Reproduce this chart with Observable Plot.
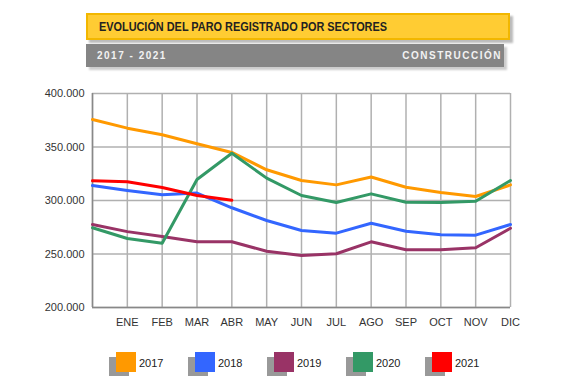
<!DOCTYPE html>
<html><head><meta charset="utf-8">
<script src="https://cdn.jsdelivr.net/npm/d3@7"></script>
<script src="https://cdn.jsdelivr.net/npm/@observablehq/plot@0.6"></script>
<style>
body{margin:0;background:#fff;font-family:"Liberation Sans",Arial,sans-serif;}
#wrap{position:relative;width:580px;height:383px;overflow:hidden;}
#chart{position:absolute;left:0;top:0;}
.title{position:absolute;left:86px;top:13px;width:409px;height:23px;background:#FFCC33;border:2px solid #F2B700;box-shadow:3px 3px 2px #bbb;font-weight:bold;font-size:12.5px;color:#222;line-height:25px;padding-left:11px;box-sizing:content-box;white-space:nowrap;}
.title span{display:inline-block;transform-origin:left center;}
.sub{position:absolute;left:86px;top:44px;width:418px;height:23px;background:#858585;box-shadow:3px 3px 2px #ccc;color:#f2f2f2;font-weight:bold;font-size:10px;letter-spacing:1.5px;line-height:23px;}
.sub .l{position:absolute;left:11px;}
.sub .r{position:absolute;right:2px;}
#legend{position:absolute;top:352px;left:0;width:580px;height:30px;}
.item{position:absolute;top:0;font-size:11px;color:#222;}
.item .sh{position:absolute;left:-7px;top:5px;width:20px;height:19px;background:#999;}
.item .sw{position:absolute;left:0;top:0;width:20px;height:20px;}
.item .tx{position:absolute;left:23px;top:5px;}
</style></head>
<body><div id="wrap"><div id="chart"></div>
<div class="title"><span id="tt">EVOLUCIÓN DEL PARO REGISTRADO POR SECTORES</span></div>
<div class="sub"><span class="l">2017 - 2021</span><span class="r">CONSTRUCCIÓN</span></div>
<div id="legend"></div></div>
<script>
const months = ["ENE","FEB","MAR","ABR","MAY","JUN","JUL","AGO","SEP","OCT","NOV","DIC"];
const years = ["2017","2018","2019","2020","2021"];
const colors = ["#FF9900","#3366FF","#993366","#339966","#FF0000"];
// first value = previous December (unlabeled start point), then ENE..DIC
const v2017 = [375700,367600,361400,353000,344900,328700,318700,314600,322000,312400,307500,303700,314600];
const v2018 = [314000,309300,305300,306900,293200,281300,272000,269500,278800,271300,268000,267600,277600];
const v2019 = [277600,270900,266400,261400,261400,252600,248600,250200,261400,253900,253900,255800,274100];
const v2020 = [274500,264500,260000,319600,344200,320900,304700,298100,306200,298400,298100,299300,318700];
const v2021 = [318400,317500,312100,304700,300300];
const yTicks = [200000,250000,300000,350000,400000];

const series = [v2017,v2018,v2019,v2020,v2021];
const data = [];
series.forEach((s,i)=>s.forEach((v,j)=>data.push({year:years[i],x:j,v})));
const fmt = d => d3.format(",")(d).replace(/,/g,".");

const chart = Plot.plot({
  width:580, height:340,
  marginTop:93, marginBottom:33, marginLeft:92, marginRight:70,
  style:{fontFamily:"Liberation Sans, Arial, sans-serif", fontSize:"11px", color:"#333"},
  x:{domain:[0,12], label:null},
  y:{domain:[200000,400000], label:null},
  color:{domain:years, range:colors},
  marks:[
    Plot.ruleX(d3.range(0,13), {stroke:"#b0b0b0", strokeWidth:1.5}),
    Plot.ruleY(yTicks, {stroke:"#b0b0b0", strokeWidth:1.5}),
    Plot.ruleX([0], {stroke:"#888", strokeWidth:1.5}),
    Plot.ruleY([200000], {stroke:"#888", strokeWidth:1.5}),
    Plot.lineY(data, {x:"x", y:"v", z:"year", stroke:"year", strokeWidth:3}),
    Plot.axisX({ticks:d3.range(1,13), tickFormat:d=>months[d-1], tickSize:0, tickPadding:11, fill:"#333"}),
    Plot.axisY({ticks:yTicks, tickFormat:fmt, tickSize:0, tickPadding:8, fill:"#333"})
  ]
});
document.getElementById("chart").appendChild(chart);

const tt = document.getElementById("tt");
const w = tt.getBoundingClientRect().width;
tt.style.transform = `scaleX(${288 / w})`;

const lg = document.getElementById("legend");
years.forEach((y,i)=>{
  const it = document.createElement("div");
  it.className="item";
  it.style.left = (116 + i*79) + "px";
  it.innerHTML = `<div class="sh"></div><div class="sw" style="background:${colors[i]}"></div><div class="tx">${y}</div>`;
  lg.appendChild(it);
});
</script></body></html>
